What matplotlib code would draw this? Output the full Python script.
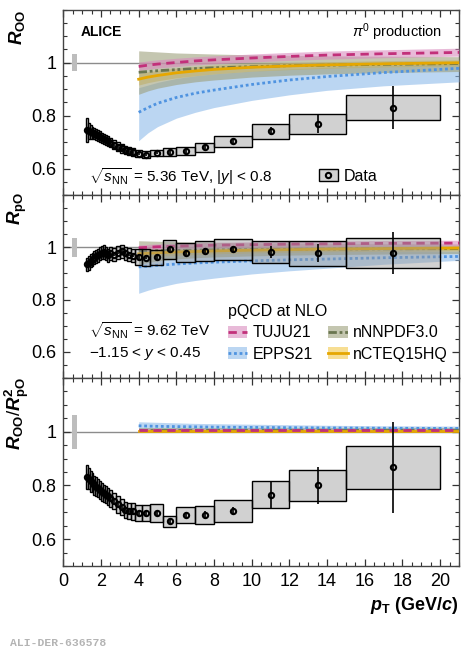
import numpy as np
import matplotlib
matplotlib.use('Agg')
import matplotlib.pyplot as plt
from matplotlib.patches import Rectangle, Patch
from matplotlib.lines import Line2D
from matplotlib.ticker import MultipleLocator

plt.rcParams['font.family'] = ['Liberation Sans', 'DejaVu Sans']
plt.rcParams['mathtext.fontset'] = 'custom'
plt.rcParams['mathtext.rm'] = 'Liberation Sans'
plt.rcParams['mathtext.it'] = 'Liberation Sans:italic'
plt.rcParams['mathtext.bf'] = 'Liberation Sans:bold'
plt.rcParams['mathtext.bfit'] = 'Liberation Sans:bold:italic'

# pT bins (GeV/c)
pt_edges = [1.2, 1.3, 1.4, 1.5, 1.6, 1.7, 1.8, 1.9, 2.0, 2.1, 2.2, 2.3, 2.4,
            2.6, 2.8, 3.0, 3.2, 3.4, 3.6, 3.8, 4.2, 4.6, 5.3, 6.0, 7.0, 8.0,
            10, 12, 15, 20]

# R_OO
roo = [0.745, 0.742, 0.738, 0.735, 0.733, 0.728, 0.725, 0.720, 0.716, 0.712, 0.708, 0.704,
       0.698, 0.690, 0.683, 0.676, 0.670, 0.666, 0.662,
       0.656, 0.652, 0.658, 0.662, 0.666, 0.680, 0.703, 0.740, 0.769, 0.830]
roo_stat = [0.008] * 19 + [0.005, 0.005, 0.005, 0.006, 0.006, 0.007, 0.008, 0.015, 0.036, 0.081]
roo_syst = [0.045, 0.03, 0.025, 0.022, 0.02, 0.02, 0.02, 0.02, 0.018, 0.018, 0.018, 0.018,
            0.017, 0.016, 0.016, 0.016, 0.015, 0.015, 0.015,
            0.012, 0.013, 0.012, 0.014, 0.015, 0.017, 0.02, 0.028, 0.037, 0.048]

# R_pO
rpo = [0.935, 0.940, 0.948, 0.955, 0.960, 0.965, 0.970, 0.975, 0.980, 0.982, 0.975, 0.970,
       0.978, 0.972, 0.980, 0.985, 0.978, 0.972, 0.968,
       0.962, 0.960, 0.962, 0.992, 0.980, 0.987, 0.992, 0.982, 0.977, 0.977]
rpo_stat = [0.006] * 19 + [0.006, 0.006, 0.007, 0.008, 0.008, 0.009, 0.01, 0.022, 0.035, 0.08]
rpo_syst = [0.025] * 19 + [0.03, 0.033, 0.028, 0.035, 0.036, 0.038, 0.04, 0.042, 0.048, 0.058]

# R_OO / R_pO^2
ratio = [0.832, 0.825, 0.815, 0.810, 0.800, 0.795, 0.790, 0.783, 0.775, 0.770, 0.765, 0.760,
         0.752, 0.742, 0.730, 0.720, 0.710, 0.705, 0.703,
         0.698, 0.698, 0.697, 0.666, 0.689, 0.690, 0.705, 0.766, 0.800, 0.867]
ratio_stat = [0.01] * 19 + [0.008, 0.008, 0.009, 0.01, 0.012, 0.014, 0.015, 0.05, 0.068, 0.169]
ratio_syst = [0.045, 0.04, 0.038, 0.036, 0.035, 0.035, 0.034, 0.034, 0.033, 0.033, 0.032, 0.032,
              0.032, 0.031, 0.031, 0.03, 0.03, 0.03, 0.03,
              0.03, 0.03, 0.035, 0.019, 0.03, 0.035, 0.042, 0.05, 0.059, 0.08]

# normalisation uncertainty at unity
norm_unc = [0.033, 0.037, 0.063]

# pQCD at NLO curves
pt_th = [4, 4.5, 5, 6, 7, 8, 10, 12, 14, 17, 21]
th = {
    'OO': {
        'EPPS21': ([0.812, 0.830, 0.846, 0.868, 0.884, 0.896, 0.917, 0.934, 0.947, 0.962, 0.978],
                   [0.705, 0.735, 0.758, 0.790, 0.812, 0.830, 0.857, 0.878, 0.895, 0.912, 0.927],
                   [0.905, 0.915, 0.925, 0.940, 0.950, 0.957, 0.968, 0.976, 0.982, 0.989, 0.996]),
        'nCTEQ15HQ': ([0.937, 0.945, 0.951, 0.961, 0.968, 0.974, 0.982, 0.987, 0.991, 0.995, 0.999],
                      [0.915, 0.924, 0.931, 0.942, 0.950, 0.957, 0.967, 0.973, 0.978, 0.983, 0.987],
                      [0.958, 0.965, 0.971, 0.979, 0.985, 0.990, 0.996, 1.000, 1.003, 1.007, 1.010]),
        'nNNPDF3.0': ([0.963, 0.966, 0.969, 0.973, 0.977, 0.980, 0.984, 0.988, 0.990, 0.993, 0.996],
                      [0.880, 0.893, 0.903, 0.917, 0.927, 0.934, 0.945, 0.952, 0.957, 0.962, 0.966],
                      [1.044, 1.042, 1.040, 1.036, 1.034, 1.032, 1.029, 1.027, 1.025, 1.024, 1.022]),
        'TUJU21': ([0.985, 0.990, 0.994, 1.000, 1.006, 1.010, 1.017, 1.023, 1.028, 1.033, 1.038],
                   [0.970, 0.975, 0.979, 0.985, 0.991, 0.995, 1.002, 1.008, 1.013, 1.018, 1.024],
                   [1.001, 1.006, 1.010, 1.016, 1.021, 1.025, 1.032, 1.038, 1.043, 1.048, 1.054]),
    },
    'pO': {
        'EPPS21': ([0.925, 0.928, 0.931, 0.936, 0.940, 0.943, 0.948, 0.952, 0.955, 0.960, 0.965],
                   [0.824, 0.836, 0.846, 0.862, 0.873, 0.882, 0.898, 0.910, 0.920, 0.935, 0.950],
                   [0.990, 0.990, 0.990, 0.990, 0.990, 0.990, 0.990, 0.988, 0.987, 0.986, 0.985]),
        'nCTEQ15HQ': ([0.975, 0.977, 0.979, 0.982, 0.984, 0.986, 0.989, 0.991, 0.993, 0.995, 0.997],
                      [0.960, 0.963, 0.966, 0.969, 0.972, 0.975, 0.978, 0.981, 0.983, 0.985, 0.987],
                      [0.990, 0.991, 0.992, 0.995, 0.996, 0.997, 1.000, 1.001, 1.003, 1.005, 1.007]),
        'nNNPDF3.0': ([0.985, 0.986, 0.987, 0.988, 0.989, 0.990, 0.991, 0.992, 0.993, 0.994, 0.995],
                      [0.935, 0.942, 0.948, 0.955, 0.960, 0.963, 0.967, 0.970, 0.972, 0.974, 0.976],
                      [1.025, 1.024, 1.023, 1.021, 1.020, 1.019, 1.017, 1.016, 1.015, 1.014, 1.013]),
        'TUJU21': ([0.998, 1.000, 1.002, 1.004, 1.006, 1.008, 1.010, 1.012, 1.013, 1.015, 1.016],
                   [0.987, 0.989, 0.991, 0.993, 0.995, 0.997, 0.999, 1.001, 1.002, 1.004, 1.005],
                   [1.009, 1.011, 1.013, 1.015, 1.017, 1.019, 1.021, 1.023, 1.024, 1.026, 1.027]),
    },
    'ratio': {
        'EPPS21': ([1.022, 1.021, 1.020, 1.019, 1.018, 1.017, 1.016, 1.015, 1.014, 1.013, 1.012],
                   [1.005, 1.005, 1.004, 1.004, 1.003, 1.003, 1.002, 1.002, 1.001, 1.001, 1.000],
                   [1.037, 1.036, 1.035, 1.033, 1.031, 1.030, 1.028, 1.026, 1.024, 1.022, 1.021]),
        'nCTEQ15HQ': ([1.004] * 11, [0.999] * 11, [1.009] * 11),
        'nNNPDF3.0': ([1.005] * 11, [0.998] * 11, [1.012] * 11),
        'TUJU21': ([1.006] * 11, [1.003] * 11, [1.009] * 11),
    },
}

styles = {
    'EPPS21': dict(band='#8fbbea', line='#4f93e0', ls=(0, (1, 1))),
    'nCTEQ15HQ': dict(band='#f2c84b', line='#e6a700', ls='-'),
    'nNNPDF3.0': dict(band='#9ea07c', line='#6a7650', ls=(0, (3, 1, 1, 1, 1, 1))),
    'TUJU21': dict(band='#d98cbf', line='#c2307a', ls=(0, (3, 2))),
}
band_alpha = 0.6

fig = plt.figure(figsize=(4.75, 6.5), dpi=100)
W, H = 475, 650
left, right = 63.3 / W, 459 / W
panels_px = [(9.5, 195), (195, 378), (378, 566)]
axes = []
for top, bot in panels_px:
    ax = fig.add_axes([left, 1 - bot / H, right - left, (bot - top) / H])
    axes.append(ax)

edges = np.array(pt_edges)
centers = 0.5 * (edges[:-1] + edges[1:])
widths = np.diff(edges)

datasets = [(roo, roo_stat, roo_syst, 'OO'),
            (rpo, rpo_stat, rpo_syst, 'pO'),
            (ratio, ratio_stat, ratio_syst, 'ratio')]

for i, (ax, (val, stat, syst, key)) in enumerate(zip(axes, datasets)):
    ax.set_xlim(0, 21)
    ax.set_ylim(0.5, 1.2)
    ax.axhline(1.0, color='#8c8c8c', lw=1, zorder=1)
    ax.add_patch(Rectangle((0.45, 1 - norm_unc[i]), 0.3, 2 * norm_unc[i],
                           facecolor='#bdbdbd', edgecolor='none', zorder=2))

    # theory bands, then lines
    for name in ['EPPS21', 'nCTEQ15HQ', 'nNNPDF3.0', 'TUJU21']:
        c, lo, hi = th[key][name]
        st = styles[name]
        ax.fill_between(pt_th, lo, hi, color=st['band'], alpha=band_alpha, lw=0, zorder=3)
    for name in ['EPPS21', 'nNNPDF3.0', 'nCTEQ15HQ', 'TUJU21']:
        c, lo, hi = th[key][name]
        st = styles[name]
        ax.plot(pt_th, c, color=st['line'], ls=st['ls'], lw=2, zorder=4)

    # data: systematic boxes, stat bars, markers
    for x, w, v, s in zip(centers, widths, val, syst):
        ax.add_patch(Rectangle((x - w / 2, v - s), w, 2 * s,
                               facecolor=(0.6, 0.6, 0.6, 0.45), edgecolor='black',
                               lw=1, zorder=5))
    ax.errorbar(centers, val, yerr=stat, fmt='none', ecolor='black', elinewidth=1.2,
                capsize=0, zorder=6)
    ax.plot(centers, val, 'o', ms=3.8, mfc='none', mec='black', mew=1.5, zorder=7)

    ax.xaxis.set_major_locator(MultipleLocator(2))
    ax.xaxis.set_minor_locator(MultipleLocator(0.5))
    ax.yaxis.set_minor_locator(MultipleLocator(0.05))
    ax.set_yticks([0.6, 0.8, 1.0])
    ax.set_yticklabels(['0.6', '0.8', '1'])
    ax.tick_params(which='both', direction='in', top=True, right=True,
                   labelsize=13, color='#333333')
    ax.tick_params(which='major', length=5, width=0.9, pad=5)
    ax.tick_params(which='minor', length=2.8, width=0.8)
    for sp in ax.spines.values():
        sp.set_color('#444444')
        sp.set_linewidth(1)
    if i < 2:
        ax.tick_params(labelbottom=False)

# panel annotations
ax1, ax2, ax3 = axes
ax1.text(81 / W, 1 - 31.7 / H, 'ALICE', transform=fig.transFigure, fontsize=10,
         fontweight='bold', va='center', ha='left')
ax1.text(442 / W, 1 - 32.3 / H, r'$\pi^0$ production', transform=fig.transFigure,
         fontsize=10.5, va='center', ha='right')
ax1.text(89 / W, 1 - 176.7 / H, r'$\sqrt{s_{\rm NN}}$ = 5.36 TeV, |$y$| < 0.8',
         transform=fig.transFigure, fontsize=11, va='center', ha='left')
ax2.text(89 / W, 1 - 331 / H, r'$\sqrt{s_{\rm NN}}$ = 9.62 TeV',
         transform=fig.transFigure, fontsize=11, va='center', ha='left')
ax2.text(89 / W, 1 - 353 / H, '\u22121.15 < $y$ < 0.45',
         transform=fig.transFigure, fontsize=11, va='center', ha='left')

data_handle = (Patch(facecolor=(0.6, 0.6, 0.6, 0.45), edgecolor='black', lw=1),
               Line2D([], [], marker='o', ms=3.8, mfc='none', mec='black', mew=1.5, ls='none'))
ax1.legend([data_handle], ['Data'], loc='center left', bbox_to_anchor=(0.645, 0.102),
           frameon=False, fontsize=11.5, handlelength=1.2, handleheight=0.75,
           handletextpad=0.35, borderpad=0, borderaxespad=0)

order = ['TUJU21', 'EPPS21', 'nNNPDF3.0', 'nCTEQ15HQ']
th_handles = [(Patch(facecolor=styles[n]['band'], alpha=band_alpha, lw=0),
               Line2D([], [], color=styles[n]['line'], ls=styles[n]['ls'], lw=2)) for n in order]
leg = ax2.legend(th_handles, order, ncol=2, loc='upper left', bbox_to_anchor=(0.415, 0.405),
                 frameon=False, fontsize=11.5, title='pQCD at NLO', title_fontsize=11.5,
                 alignment='left', handlelength=1.2, handleheight=0.75, handletextpad=0.35,
                 columnspacing=1.0, labelspacing=0.4, borderpad=0, borderaxespad=0)

# axis titles
fig.text(17 / W, 1 - 9 / H, r'$\mathbfit{R}_\mathbf{OO}$', rotation=90, fontsize=13.5,
         ha='center', va='top')
fig.text(17 / W, 1 - 192 / H, r'$\mathbfit{R}_\mathbf{pO}$', rotation=90, fontsize=13.5,
         ha='center', va='top')
fig.text(17 / W, 1 - 377 / H, r'$\mathbfit{R}_\mathbf{OO}/\mathbfit{R}^\mathbf{2}_\mathbf{pO}$',
         rotation=90, fontsize=13.5, ha='center', va='top')
fig.text(459 / W, 1 - 606 / H, r'$\mathbfit{p}_\mathbf{T}$ $\mathbf{(GeV/}\mathbfit{c}\mathbf{)}$',
         fontsize=13, ha='right', va='center')

fig.text(10 / W, 1 - 642.7 / H, 'ALI-DER-636578', fontsize=8.2, family='Liberation Mono',
         fontweight='bold', color='#b4b4b4', ha='left', va='center')

fig.savefig('out.png', dpi=100)
